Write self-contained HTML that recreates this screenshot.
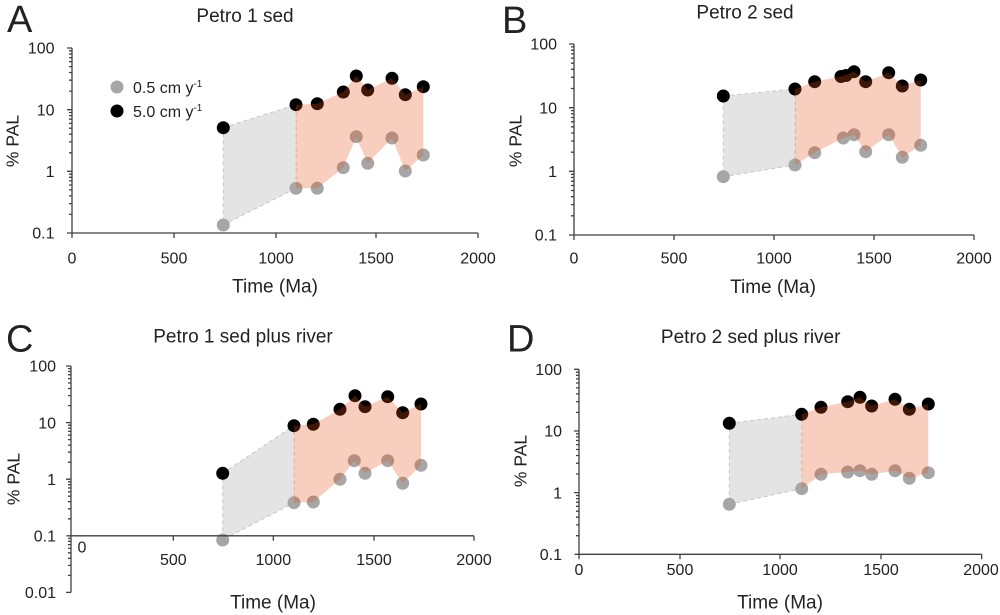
<!DOCTYPE html>
<html>
<head>
<meta charset="utf-8">
<style>
html,body{margin:0;padding:0;background:#fff;}
svg{display:block;}
text{font-family:"Liberation Sans",sans-serif;fill:#222;}
.tk{font-size:16px;}
.ttl{font-size:19px;}
.ax{font-size:19px;}
.yl{font-size:17.5px;}
.lt{font-size:38px;fill:#222;}
.axis{stroke:#404040;stroke-width:1.3;fill:none;}
.gfill{fill:#e4e4e4;stroke:#c8c8c8;stroke-width:1;stroke-dasharray:4,3;}
.sfill{fill:rgb(230,80,20);fill-opacity:0.28;stroke:none;}
.bk{fill:#000;}
.gy{fill:#a6a6a6;}
</style>
</head>
<body>
<svg width="1000" height="615" viewBox="0 0 1000 615" xmlns="http://www.w3.org/2000/svg">

<!-- ================= PANEL A ================= -->
<text class="lt" x="7" y="32">A</text>
<text class="ttl" x="245" y="22" text-anchor="middle">Petro 1 sed</text>
<polygon class="gfill" points="223.3,127.7 296,104.7 296,188.3 223.3,225"/>
<g class="bk">
<circle cx="223.3" cy="127.7" r="6.5"/>
<circle cx="296" cy="104.7" r="6.5"/>
<circle cx="317.3" cy="103.7" r="6.5"/>
<circle cx="343.3" cy="92" r="6.5"/>
<circle cx="356.3" cy="76" r="6.5"/>
<circle cx="367.7" cy="90" r="6.5"/>
<circle cx="392" cy="78.3" r="6.5"/>
<circle cx="405.3" cy="94.7" r="6.5"/>
<circle cx="423.3" cy="86.7" r="6.5"/>
</g>
<g class="gy">
<circle cx="223.3" cy="225" r="6.5"/>
<circle cx="296" cy="188.3" r="6.5"/>
<circle cx="317.3" cy="188.3" r="6.5"/>
<circle cx="343.3" cy="167.7" r="6.5"/>
<circle cx="356.3" cy="136.7" r="6.5"/>
<circle cx="367.7" cy="163.3" r="6.5"/>
<circle cx="392" cy="138" r="6.5"/>
<circle cx="405.3" cy="171" r="6.5"/>
<circle cx="423.3" cy="155" r="6.5"/>
</g>
<polygon class="sfill" points="296,104.7 317.3,103.7 343.3,92 356.3,76 367.7,90 392,78.3 405.3,94.7 423.3,86.7 423.3,155 405.3,171 392,138 367.7,163.3 356.3,136.7 343.3,167.7 317.3,188.3 296,188.3"/>
<path class="axis" d="M72 48V238 M67 233H478 M174 233v5 M276 233v5 M376 233v5 M478 233v5 M67 48h5 M67 109.7h5 M67 171.3h5"/>
<path class="axis" stroke-width="1" d="M69 214.4h3M69 203.6h3M69 195.9h3M69 189.9h3M69 185h3M69 180.9h3M69 177.3h3M69 174.2h3M69 152.8h3M69 141.9h3M69 134.2h3M69 128.2h3M69 123.4h3M69 119.2h3M69 115.6h3M69 112.5h3M69 91.1h3M69 80.2h3M69 72.5h3M69 66.6h3M69 61.7h3M69 57.6h3M69 54h3M69 50.8h3"/>
<g class="tk" text-anchor="end">
<text x="54.5" y="53.7">100</text>
<text x="54.5" y="115.4">10</text>
<text x="54.5" y="177">1</text>
<text x="54.5" y="238.7">0.1</text>
</g>
<g class="tk" text-anchor="middle">
<text x="72" y="263.3">0</text>
<text x="174" y="263.3">500</text>
<text x="276" y="263.3">1000</text>
<text x="376" y="263.3">1500</text>
<text x="478" y="263.3">2000</text>
</g>
<text class="ax" x="275" y="292.7" text-anchor="middle">Time (Ma)</text>
<text class="yl" x="18.3" y="141" text-anchor="middle" transform="rotate(-90 18.3 141)">% PAL</text>
<circle cx="117" cy="87" r="6.5" fill="#a6a6a6"/>
<circle cx="117" cy="111" r="6.5" fill="#000"/>
<text x="133" y="93" style="font-size:16px">0.5 cm y<tspan dy="-6" style="font-size:10px">-1</tspan></text>
<text x="133" y="117" style="font-size:16px">5.0 cm y<tspan dy="-6" style="font-size:10px">-1</tspan></text>

<!-- ================= PANEL B ================= -->
<text class="lt" x="502" y="33">B</text>
<text class="ttl" x="745" y="18.5" text-anchor="middle">Petro 2 sed</text>
<polygon class="gfill" points="723.3,96 795,89 795,165 723.3,176.7"/>
<g class="bk">
<circle cx="723.3" cy="96" r="6.5"/>
<circle cx="795" cy="89" r="6.5"/>
<circle cx="814.7" cy="81.7" r="6.5"/>
<circle cx="841" cy="76.5" r="6.5"/>
<circle cx="846" cy="75.5" r="6.5"/>
<circle cx="854" cy="71.7" r="6.5"/>
<circle cx="865.7" cy="81.7" r="6.5"/>
<circle cx="888.7" cy="72.7" r="6.5"/>
<circle cx="902.3" cy="86" r="6.5"/>
<circle cx="920.7" cy="80" r="6.5"/>
</g>
<g class="gy">
<circle cx="723.3" cy="176.7" r="6.5"/>
<circle cx="795" cy="165" r="6.5"/>
<circle cx="814.7" cy="152.7" r="6.5"/>
<circle cx="843.3" cy="138" r="6.5"/>
<circle cx="854" cy="134.7" r="6.5"/>
<circle cx="865.7" cy="151.7" r="6.5"/>
<circle cx="888.7" cy="134.7" r="6.5"/>
<circle cx="902.3" cy="157.3" r="6.5"/>
<circle cx="920.7" cy="145.3" r="6.5"/>
</g>
<polygon class="sfill" points="795,89 814.7,81.7 843,76 854,71.7 865.7,81.7 888.7,72.7 902.3,86 920.7,80 920.7,145.3 902.3,157.3 888.7,134.7 865.7,151.7 854,134.7 843.3,138 814.7,152.7 795,165"/>
<path class="axis" d="M574 44V240 M569 235H974 M674 235v5 M774 235v5 M874 235v5 M974 235v5 M569 44h5 M569 107.7h5 M569 171.3h5"/>
<path class="axis" stroke-width="1" d="M571 215.8h3M571 204.6h3M571 196.7h3M571 190.5h3M571 185.5h3M571 181.2h3M571 177.5h3M571 174.3h3M571 152.2h3M571 141h3M571 133h3M571 126.8h3M571 121.8h3M571 117.5h3M571 113.8h3M571 110.6h3M571 88.5h3M571 77.3h3M571 69.3h3M571 63.2h3M571 58.1h3M571 53.9h3M571 50.2h3M571 46.9h3"/>
<g class="tk" text-anchor="end">
<text x="557" y="49.7">100</text>
<text x="557" y="113.4">10</text>
<text x="557" y="177">1</text>
<text x="557" y="240.7">0.1</text>
</g>
<g class="tk" text-anchor="middle">
<text x="574" y="263.7">0</text>
<text x="674" y="263.7">500</text>
<text x="774" y="263.7">1000</text>
<text x="874" y="263.7">1500</text>
<text x="974" y="263.7">2000</text>
</g>
<text class="ax" x="773" y="293" text-anchor="middle">Time (Ma)</text>
<text class="yl" x="521.7" y="141" text-anchor="middle" transform="rotate(-90 521.7 141)">% PAL</text>

<!-- ================= PANEL C ================= -->
<text class="lt" x="6" y="351.7">C</text>
<text class="ttl" x="243" y="342.3" text-anchor="middle">Petro 1 sed plus river</text>
<polygon class="gfill" points="222.7,473.3 294,425.7 294,502.7 222.7,540"/>
<g class="bk">
<circle cx="222.7" cy="473.3" r="6.5"/>
<circle cx="294" cy="425.7" r="6.5"/>
<circle cx="313.3" cy="424.3" r="6.5"/>
<circle cx="340" cy="409.3" r="6.5"/>
<circle cx="355" cy="395.7" r="6.5"/>
<circle cx="365" cy="406.7" r="6.5"/>
<circle cx="387.7" cy="396.7" r="6.5"/>
<circle cx="402.7" cy="412.7" r="6.5"/>
<circle cx="421" cy="404" r="6.5"/>
</g>
<g class="gy">
<circle cx="222.7" cy="540" r="6.5"/>
<circle cx="294" cy="502.7" r="6.5"/>
<circle cx="313.3" cy="502" r="6.5"/>
<circle cx="340" cy="479.3" r="6.5"/>
<circle cx="354.3" cy="460.7" r="6.5"/>
<circle cx="365" cy="473.3" r="6.5"/>
<circle cx="387.7" cy="460.7" r="6.5"/>
<circle cx="402.7" cy="483.3" r="6.5"/>
<circle cx="421" cy="465.3" r="6.5"/>
</g>
<polygon class="sfill" points="294,425.7 313.3,424.3 340,409.3 355,395.7 365,406.7 387.7,396.7 402.7,412.7 421,404 421,465.3 402.7,483.3 387.7,460.7 365,473.3 354.3,460.7 340,479.3 313.3,502 294,502.7"/>
<path class="axis" d="M71 366V592.4 M66.5 535.8H474 M173.3 535.8v5 M273.3 535.8v5 M374 535.8v5 M474 535.8v5 M66 366h5 M66 422.6h5 M66 479.2h5 M66 592.4h5"/>
<path class="axis" stroke-width="1" d="M68 575.4h3M68 565.4h3M68 558.3h3M68 552.8h3M68 548.4h3M68 544.6h3M68 541.3h3M68 538.4h3M68 518.8h3M68 508.8h3M68 501.7h3M68 496.2h3M68 491.8h3M68 488h3M68 484.7h3M68 481.8h3M68 462.2h3M68 452.2h3M68 445.1h3M68 439.6h3M68 435.2h3M68 431.4h3M68 428.1h3M68 425.2h3M68 405.6h3M68 395.6h3M68 388.5h3M68 383h3M68 378.6h3M68 374.8h3M68 371.5h3M68 368.6h3"/>
<g class="tk" text-anchor="end">
<text x="56" y="371.7">100</text>
<text x="56" y="428.3">10</text>
<text x="56" y="484.9">1</text>
<text x="56" y="541.5">0.1</text>
<text x="56" y="598.1">0.01</text>
</g>
<g class="tk" text-anchor="middle">
<text x="82" y="552.5">0</text>
<text x="173.3" y="565">500</text>
<text x="273.3" y="565">1000</text>
<text x="374" y="565">1500</text>
<text x="474" y="565">2000</text>
</g>
<text class="ax" x="273" y="608.5" text-anchor="middle">Time (Ma)</text>
<text class="yl" x="19.3" y="479" text-anchor="middle" transform="rotate(-90 19.3 479)">% PAL</text>

<!-- ================= PANEL D ================= -->
<text class="lt" x="507" y="351.7">D</text>
<text class="ttl" x="750.7" y="343" text-anchor="middle">Petro 2 sed plus river</text>
<polygon class="gfill" points="729.3,423.3 801.7,414.3 801.7,488.7 729.3,504.3"/>
<g class="bk">
<circle cx="729.3" cy="423.3" r="6.5"/>
<circle cx="801.7" cy="414.3" r="6.5"/>
<circle cx="821" cy="407.3" r="6.5"/>
<circle cx="847.7" cy="401.7" r="6.5"/>
<circle cx="860" cy="397.3" r="6.5"/>
<circle cx="871.7" cy="406" r="6.5"/>
<circle cx="895" cy="399.3" r="6.5"/>
<circle cx="909.3" cy="409.3" r="6.5"/>
<circle cx="928.3" cy="404" r="6.5"/>
</g>
<g class="gy">
<circle cx="729.3" cy="504.3" r="6.5"/>
<circle cx="801.7" cy="488.7" r="6.5"/>
<circle cx="821" cy="474.3" r="6.5"/>
<circle cx="847.7" cy="472" r="6.5"/>
<circle cx="860" cy="470.7" r="6.5"/>
<circle cx="871.7" cy="474.3" r="6.5"/>
<circle cx="895" cy="470.7" r="6.5"/>
<circle cx="909.3" cy="478.3" r="6.5"/>
<circle cx="928.3" cy="472.7" r="6.5"/>
</g>
<polygon class="sfill" points="801.7,414.3 821,407.3 847.7,401.7 860,397.3 871.7,406 895,399.3 909.3,409.3 928.3,404 928.3,472.7 909.3,478.3 895,470.7 871.7,474.3 860,470.7 847.7,472 821,474.3 801.7,488.7"/>
<path class="axis" d="M579 369.3V559.3 M574.5 554.3H981.7 M680 554.3v5 M780 554.3v5 M881 554.3v5 M981.7 554.3v5 M574 369.3h5 M574 431h5 M574 492.6h5"/>
<path class="axis" stroke-width="1" d="M576 535.7h3M576 524.9h3M576 517.2h3M576 511.2h3M576 506.3h3M576 502.2h3M576 498.6h3M576 495.5h3M576 474h3M576 463.2h3M576 455.5h3M576 449.5h3M576 444.6h3M576 440.5h3M576 436.9h3M576 433.8h3M576 412.4h3M576 401.6h3M576 393.9h3M576 387.9h3M576 383h3M576 378.9h3M576 375.3h3M576 372.2h3"/>
<g class="tk" text-anchor="end">
<text x="562" y="375">100</text>
<text x="562" y="436.7">10</text>
<text x="562" y="498.3">1</text>
<text x="562" y="560">0.1</text>
</g>
<g class="tk" text-anchor="middle">
<text x="579" y="575">0</text>
<text x="680" y="575">500</text>
<text x="780" y="575">1000</text>
<text x="881" y="575">1500</text>
<text x="981" y="575">2000</text>
</g>
<text class="ax" x="780" y="608.5" text-anchor="middle">Time (Ma)</text>
<text class="yl" x="526.7" y="461" text-anchor="middle" transform="rotate(-90 526.7 461)">% PAL</text>

</svg>
</body>
</html>
